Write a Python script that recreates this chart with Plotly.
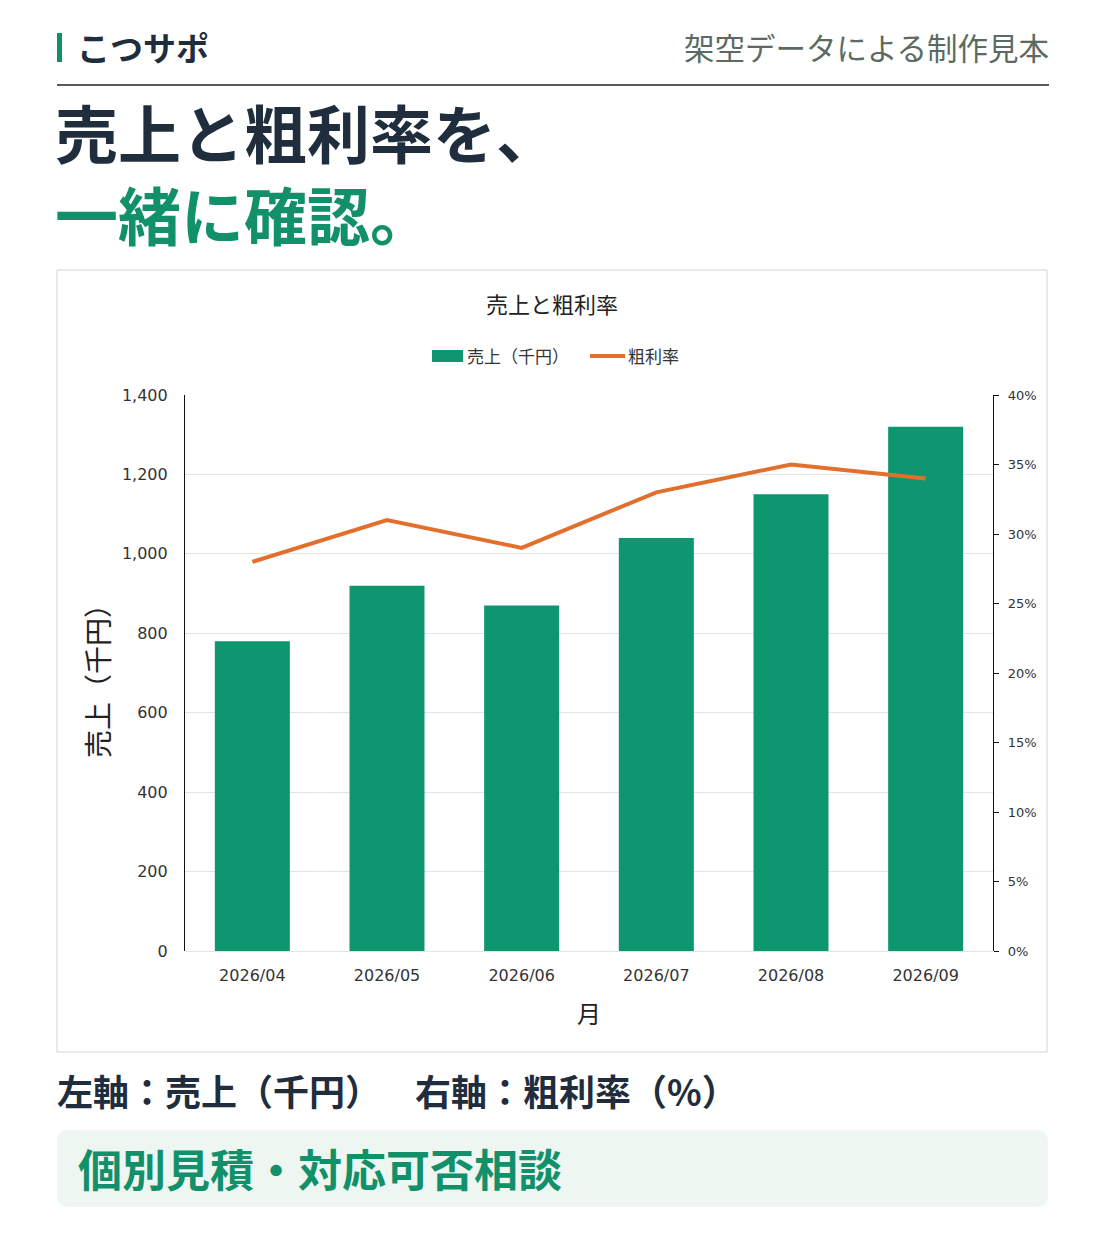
import plotly.graph_objects as go

months = ["2026/04", "2026/05", "2026/06", "2026/07", "2026/08", "2026/09"]
sales = [780, 920, 870, 1040, 1150, 1320]
margin = [0.28, 0.31, 0.29, 0.33, 0.35, 0.34]
y_ticks = [0, 200, 400, 600, 800, 1000, 1200, 1400]
y2_ticks = [0, 0.05, 0.10, 0.15, 0.20, 0.25, 0.30, 0.35, 0.40]

W, H = 1105, 1240
GREEN = "#12906a"
BAR = "#0e9670"
ORANGE = "#e2702c"
NAVY = "#1f2d3d"
JP = "Noto Sans CJK JP"
NUM = "DejaVu Sans"


def px(x):
    return x / W


def py(y):
    return 1 - y / H


fig = go.Figure()
fig.add_trace(go.Bar(x=months, y=sales, name="売上（千円）", marker_color=BAR,
                     width=0.557, showlegend=False))
fig.add_trace(go.Scatter(x=months, y=margin, name="粗利率", mode="lines",
                         line=dict(color=ORANGE, width=4), yaxis="y2", showlegend=False))

fig.update_layout(
    template="none",
    width=W, height=H, margin=dict(l=0, r=0, t=0, b=0, pad=0, autoexpand=False),
    paper_bgcolor="white", plot_bgcolor="white",
    xaxis=dict(domain=[px(185), px(993)], showline=False, showgrid=False, ticks="",
               automargin=False,
               tickfont=dict(family=NUM, size=16, color="#333333"), ticklabelstandoff=13),
    yaxis=dict(domain=[py(951), py(395)], range=[0, 1400], tickvals=y_ticks,
               automargin=False,
               tickformat=",", showline=True, linecolor="#111111", linewidth=1.2,
               gridcolor="#dce6e3", gridwidth=1, zeroline=True, zerolinecolor="#dce6e3",
               zerolinewidth=1, ticks="", ticklabelstandoff=13,
               tickfont=dict(family=NUM, size=16, color="#333333")),
    yaxis2=dict(overlaying="y", side="right", range=[0, 0.40], tickvals=y2_ticks,
                automargin=False,
                tickformat=".0%", showgrid=False, zeroline=False, showline=True,
                linecolor="#111111", linewidth=1.2, ticks="outside", ticklen=5,
                tickcolor="#111111", ticklabelstandoff=6,
                tickfont=dict(family=NUM, size=13, color="#333333")),
    showlegend=False,
)

shapes = [
    # header green mark
    dict(type="rect", xref="paper", yref="paper", x0=px(57), x1=px(62), y0=py(62), y1=py(33),
         fillcolor=GREEN, line=dict(width=0)),
    # header rule
    dict(type="line", xref="paper", yref="paper", x0=px(57), x1=px(1049), y0=py(85), y1=py(85),
         line=dict(color="#222222", width=1.5)),
    # chart frame
    dict(type="rect", xref="paper", yref="paper", x0=px(57), x1=px(1047), y0=py(1052), y1=py(270),
         fillcolor="rgba(0,0,0,0)", line=dict(color="#d5d5d5", width=1), layer="below"),
    # legend swatches
    dict(type="rect", xref="paper", yref="paper", x0=px(432), x1=px(463), y0=py(362), y1=py(350),
         fillcolor=BAR, line=dict(width=0)),
    dict(type="line", xref="paper", yref="paper", x0=px(590), x1=px(625), y0=py(356), y1=py(356),
         line=dict(color=ORANGE, width=4)),
]

# rounded box at bottom
x0, x1, y0, y1, r = 57, 1048, 1130, 1207, 12
path = (f"M {px(x0 + r)} {py(y0)} L {px(x1 - r)} {py(y0)} "
        f"Q {px(x1)} {py(y0)} {px(x1)} {py(y0 + r)} L {px(x1)} {py(y1 - r)} "
        f"Q {px(x1)} {py(y1)} {px(x1 - r)} {py(y1)} L {px(x0 + r)} {py(y1)} "
        f"Q {px(x0)} {py(y1)} {px(x0)} {py(y1 - r)} L {px(x0)} {py(y0 + r)} "
        f"Q {px(x0)} {py(y0)} {px(x0 + r)} {py(y0)} Z")
shapes.append(dict(type="path", xref="paper", yref="paper", path=path,
                   fillcolor="#edf6f1", line=dict(width=0), layer="below"))
fig.update_layout(shapes=shapes)


def ann(text, x, y, size, color, xanchor="left", bold=False, angle=0, family=JP):
    fig.add_annotation(text=text, x=px(x), y=py(y), xref="paper", yref="paper",
                       xanchor=xanchor, yanchor="middle", showarrow=False, textangle=angle,
                       align="left",
                       font=dict(family=family, size=size, color=color,
                                 weight=700 if bold else 400))


ann("こつサポ", 75, 47, 33, NAVY, bold=True)
ann("架空データによる制作見本", 1051, 47, 30.5, "#5b6b63", xanchor="right")
ann(f"売上と粗利率を、<br><span style='color:{GREEN}'>一緒に確認。</span>",
    53, 172, 63, NAVY, bold=True)
ann("売上と粗利率", 552, 303, 22, "#222222", xanchor="center")
ann("売上（千円）", 465, 355, 17, "#333333")
ann("粗利率", 626, 355, 17, "#333333")
ann("売上（千円）", 97, 674, 28, "#222222", xanchor="center", angle=-90)
ann("月", 589, 1012, 24, "#222222", xanchor="center")
ann("左軸：売上（千円）", 55, 1090, 36, NAVY, bold=True)
ann("右軸：粗利率（%）", 413, 1090, 36, NAVY, bold=True)
ann("個別見積・対応可否相談", 76, 1168, 44, GREEN, bold=True)

fig.write_html("out.html")
